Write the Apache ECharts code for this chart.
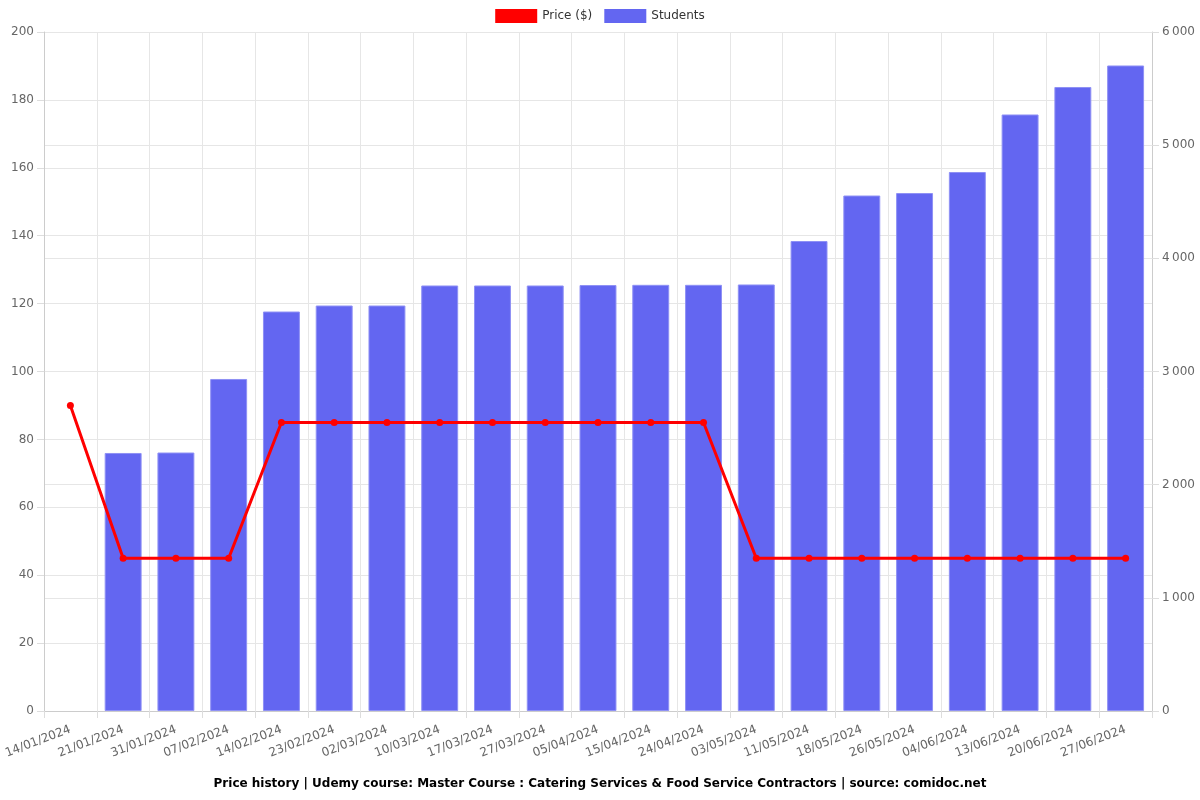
<!DOCTYPE html>
<html>
<head>
<meta charset="utf-8">
<script src="https://cdn.jsdelivr.net/npm/echarts@6/dist/echarts.min.js"></script>
<style>html,body{margin:0;padding:0;background:#fff}#c{width:1200px;height:800px}</style>
</head>
<body>
<div id="c"></div>
<script>
const categories = ["14/01/2024","21/01/2024","31/01/2024","07/02/2024","14/02/2024","23/02/2024","02/03/2024","10/03/2024","17/03/2024","27/03/2024","05/04/2024","15/04/2024","24/04/2024","03/05/2024","11/05/2024","18/05/2024","26/05/2024","04/06/2024","13/06/2024","20/06/2024","27/06/2024"];
const price = [90,45,45,45,85,85,85,85,85,85,85,85,85,45,45,45,45,45,45,45,45];
const students = [null,2280,2284,2934,3530,3583,3583,3760,3760,3760,3764,3766,3766,3769,4153,4555,4577,4763,5271,5514,5704];
const priceTicks = {min:0,max:200,interval:20};
const studentTicks = {min:0,max:6000,interval:1000};
const titleText = "Price history | Udemy course: Master Course : Catering Services & Food Service Contractors | source: comidoc.net";

const font = "DejaVu Sans";
function fmtThousands(v){
  const s = String(v);
  return s.length > 3 ? s.slice(0, s.length-3) + '\u202f' + s.slice(s.length-3) : s;
}
const chart = echarts.init(document.getElementById('c'), null, {renderer:'canvas'});
chart.setOption({
  animation:false,
  textStyle:{fontFamily:font},
  title:{text:titleText,left:'center',top:773,textStyle:{fontFamily:font,fontSize:12,fontWeight:'bold',color:'#000'}},
  legend:{top:4,left:'center',itemWidth:42,itemHeight:14,itemGap:12,textStyle:{fontFamily:font,fontSize:12,color:'#333'},
    data:[{name:'Price ($)',icon:'rect',itemStyle:{color:'#ff0000',borderWidth:0}},{name:'Students',icon:'rect',itemStyle:{color:'#6366f1',borderWidth:0}}]},
  grid:{left:44,right:48,top:32,bottom:89,containLabel:false},
  xAxis:{type:'category',data:categories,boundaryGap:true,
    axisLine:{show:true,lineStyle:{color:'#ccc'}},
    axisTick:{show:true,length:7,lineStyle:{color:'#ddd'}},
    splitLine:{show:true,lineStyle:{color:'#e6e6e6'}},
    axisLabel:{rotate:21,fontSize:12,color:'#666',fontFamily:font,margin:18,interval:0}},
  yAxis:[
    {type:'value',min:priceTicks.min,max:priceTicks.max,interval:priceTicks.interval,position:'left',
     axisLine:{show:true,lineStyle:{color:'#ccc'}},axisTick:{show:true,length:7,lineStyle:{color:'#ddd'}},
     splitLine:{show:true,lineStyle:{color:'#e6e6e6'}},
     axisLabel:{fontSize:12,color:'#666',fontFamily:font,margin:10}},
    {type:'value',min:studentTicks.min,max:studentTicks.max,interval:studentTicks.interval,position:'right',
     axisLine:{show:true,lineStyle:{color:'#ccc'}},axisTick:{show:true,length:7,lineStyle:{color:'#ddd'}},
     splitLine:{show:true,lineStyle:{color:'#e6e6e6'}},
     axisLabel:{fontSize:12,color:'#666',fontFamily:font,margin:10,formatter:fmtThousands}}
  ],
  series:[
    {name:'Price ($)',type:'line',yAxisIndex:0,data:price,z:5,symbol:'circle',symbolSize:7,
     lineStyle:{color:'#ff0000',width:3},itemStyle:{color:'#ff0000'}},
    {name:'Students',type:'bar',yAxisIndex:1,data:students,barCategoryGap:'30%',z:2,
     itemStyle:{color:'#6366f1',borderColor:'#8f91f5',borderWidth:1}}
  ]
});
</script>
</body>
</html>
